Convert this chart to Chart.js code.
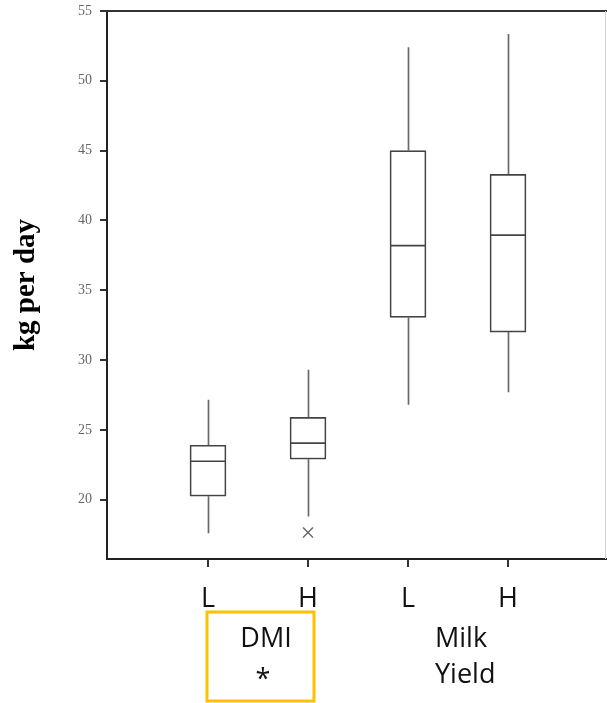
<!DOCTYPE html>
<html>
<head>
<meta charset="utf-8">
<title>kg per day</title>
<script src="https://cdn.jsdelivr.net/npm/chart.js@4/dist/chart.umd.min.js"></script>
<style>
  html, body { margin: 0; padding: 0; background: #fff; }
  canvas { display: block; }
</style>
</head>
<body>
<canvas id="boxChart" width="607" height="703"></canvas>
<script>
// Box plot data: DMI and milk yield, low (L) and high (H) groups
const categories = ["L", "H", "L", "H"];
const positions = [1, 2, 3, 4];
const whiskerLow = [17.6, 18.8, 26.8, 27.7];
const q1 = [20.25, 22.9, 33.05, 32.0];
const median = [22.75, 24.05, 38.2, 38.95];
const q3 = [23.9, 25.9, 45.0, 43.3];
const whiskerHigh = [27.15, 29.3, 52.4, 53.35];
const outliers = [[], [17.65], [], []];
const yTicks = [20, 25, 30, 35, 40, 45, 50, 55];

const boxData = positions.map((x, i) => ({ x: x, y: [q1[i], q3[i]] }));
const outlierData = [];
outliers.forEach((vals, i) => vals.forEach((v) => outlierData.push({ x: positions[i], y: v })));

// whiskers, medians, frame and group labels
const boxExtras = {
  id: "boxExtras",
  beforeDatasetsDraw(chart) {
    const { ctx, scales: { x, y } } = chart;
    ctx.save();
    ctx.strokeStyle = "#6a6a6a";
    ctx.lineWidth = 1.7;
    positions.forEach((p, i) => {
      const px = Math.round(x.getPixelForValue(p)) + 0.5;
      ctx.beginPath();
      ctx.moveTo(px, y.getPixelForValue(whiskerHigh[i]));
      ctx.lineTo(px, y.getPixelForValue(q3[i]));
      ctx.moveTo(px, y.getPixelForValue(q1[i]));
      ctx.lineTo(px, y.getPixelForValue(whiskerLow[i]));
      ctx.stroke();
    });
    ctx.restore();
  },
  afterDatasetsDraw(chart) {
    const { ctx, scales: { y } } = chart;
    const meta = chart.getDatasetMeta(0);
    ctx.save();
    ctx.strokeStyle = "#444";
    ctx.lineWidth = 1.7;
    meta.data.forEach((bar, i) => {
      const half = bar.width / 2;
      const py = y.getPixelForValue(median[i]);
      ctx.beginPath();
      ctx.moveTo(bar.x - half, py);
      ctx.lineTo(bar.x + half, py);
      ctx.stroke();
    });
    ctx.restore();
  },
  afterDraw(chart) {
    const { ctx, chartArea, scales: { x } } = chart;
    ctx.save();
    // top frame line
    ctx.strokeStyle = "#333";
    ctx.lineWidth = 2;
    ctx.beginPath();
    ctx.moveTo(chartArea.left - 1, chartArea.top);
    ctx.lineTo(chart.width, chartArea.top);
    ctx.stroke();
    ctx.strokeStyle = "#d4d4d4";
    ctx.lineWidth = 1;
    ctx.beginPath();
    ctx.moveTo(chart.width - 1.5, chartArea.top);
    ctx.lineTo(chart.width - 1.5, chartArea.bottom);
    ctx.stroke();

    // group labels under the L/H ticks
    ctx.fillStyle = "#111";
    ctx.font = "27px 'Open Sans'";
    ctx.textBaseline = "alphabetic";
    ctx.textAlign = "center";
    ctx.fillText("DMI", x.getPixelForValue(1.58), 647);
    ctx.textBaseline = "middle";
    ctx.fillText("*", x.getPixelForValue(1.55), 680);
    ctx.textAlign = "left";
    ctx.textBaseline = "alphabetic";
    const milkX = x.getPixelForValue(3.27);
    ctx.fillText("Milk", milkX, 647);
    ctx.fillText("Yield", milkX, 683);

    // highlight box around DMI
    ctx.strokeStyle = "#ffc000";
    ctx.lineWidth = 3;
    ctx.strokeRect(x.getPixelForValue(0.99), 612, x.getPixelForValue(2.06) - x.getPixelForValue(0.99), 89);
    ctx.restore();
  },
};

const ctx = document.getElementById("boxChart").getContext("2d");
const boxChart = new Chart(ctx, {
  type: "bar",
  data: {
    datasets: [
      {
        type: "bar",
        data: boxData,
        backgroundColor: "#fff",
        borderColor: "#444",
        borderWidth: 1.7,
        borderSkipped: false,
        barThickness: 36,
      },
      {
        type: "scatter",
        data: outlierData,
        pointStyle: "crossRot",
        radius: 7,
        borderColor: "#666",
        borderWidth: 1.4,
        backgroundColor: "#666",
      },
    ],
  },
  plugins: [boxExtras],
  options: {
    responsive: false,
    animation: false,
    events: [],
    layout: { autoPadding: false, padding: { top: 11, left: 0, right: 0, bottom: 0 } },
    plugins: {
      legend: { display: false },
      tooltip: { enabled: false },
    },
    scales: {
      x: {
        type: "linear",
        offset: false,
        min: -0.01,
        max: 4.99,
        afterBuildTicks: (axis) => {
          axis.ticks = positions.map((v) => ({ value: v }));
        },
        afterFit: (axis) => {
          axis.height = 144;
          axis.paddingLeft = 0;
          axis.paddingRight = 0;
        },
        ticks: {
          autoSkip: false,
          maxRotation: 0,
          padding: 16,
          color: "#111",
          font: { family: "'Open Sans'", size: 27 },
          callback: (value) => categories[positions.indexOf(value)] || "",
        },
        grid: { offset: false, drawOnChartArea: false, drawTicks: true, tickLength: 8, color: "#333", lineWidth: 2 },
        border: { display: true, color: "#222", width: 2 },
      },
      y: {
        min: 15.75,
        max: 55,
        afterBuildTicks: (axis) => {
          axis.ticks = yTicks.map((v) => ({ value: v }));
        },
        afterFit: (axis) => {
          axis.width = 107;
          axis.paddingTop = 0;
          axis.paddingBottom = 0;
        },
        ticks: {
          padding: 8,
          color: "#666",
          font: { family: "'Liberation Serif'", size: 14 },
        },
        grid: { drawOnChartArea: false, drawTicks: true, tickLength: 7, color: "#333", lineWidth: 2 },
        border: { display: true, color: "#222", width: 2 },
        title: {
          display: true,
          text: "kg per day",
          color: "#000",
          font: { family: "'Liberation Serif'", size: 29, weight: "bold" },
          padding: { top: 9, bottom: 0 },
        },
      },
    },
  },
});
</script>
</body>
</html>
